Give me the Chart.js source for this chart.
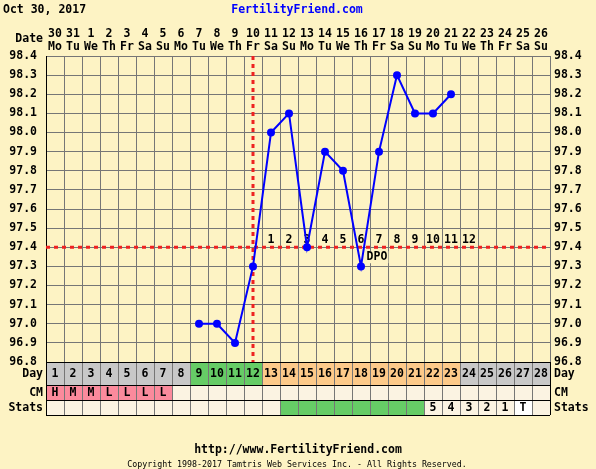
<!DOCTYPE html>
<html><head><meta charset="utf-8">
<script src="https://cdn.jsdelivr.net/npm/chart.js@4/dist/chart.umd.min.js"></script>
<style>
html,body{margin:0;padding:0;background:#fdf3c4;}
canvas{display:block;}
</style></head>
<body>
<canvas id="c" width="596" height="469"></canvas>
<script>
// ---- data ----
const chartDate = 'Oct 30, 2017';
const dateNums = ['30','31','1','2','3','4','5','6','7','8','9','10','11','12','13','14','15','16','17','18','19','20','21','22','23','24','25','26'];
const weekdays = ['Mo','Tu','We','Th','Fr','Sa','Su','Mo','Tu','We','Th','Fr','Sa','Su','Mo','Tu','We','Th','Fr','Sa','Su','Mo','Tu','We','Th','Fr','Sa','Su'];
const cycleDays = ['1','2','3','4','5','6','7','8','9','10','11','12','13','14','15','16','17','18','19','20','21','22','23','24','25','26','27','28'];
const temps = [null,null,null,null,null,null,null,null,97.0,97.0,96.9,97.3,98.0,98.1,97.4,97.9,97.8,97.3,97.9,98.3,98.1,98.1,98.2,null,null,null,null,null];
const yTicks = [96.8,96.9,97.0,97.1,97.2,97.3,97.4,97.5,97.6,97.7,97.8,97.9,98.0,98.1,98.2,98.3,98.4];
const dayPhase = ['n','n','n','n','n','n','n','n','f','f','f','f','l','l','l','l','l','l','l','l','l','l','l','n','n','n','n','n'];
const cmLabels = ['H','M','M','L','L','L','L','','','','','','','','','','','','','','','','','','','','',''];
const statsPhase = ['','','','','','','','','','','','','','g','g','g','g','g','g','g','g','','','','','','t',''];
const statsLabels = ['','','','','','','','','','','','','','','','','','','','','','5','4','3','2','1','T',''];
const dpoLabels = ['','','','','','','','','','','','','1','2','3','4','5','6','7','8','9','10','11','12','','','',''];
const coverline = 97.4;
const ovulationDay = '12';
const dpoTagDay = '19';

// ---- styles ----
const BG = '#fdf3c4';
const GRID = '#767676';
const FONT = '"DejaVu Sans Mono", "Liberation Mono", monospace';
const phaseColor = {n:'#c8c8c8', f:'#66cc66', l:'#fdca8a'};
const CREAM = '#fbf3e2';

const tablePlugin = {
  id: 'ffTable',
  beforeDraw(chart) {
    const ctx = chart.ctx;
    ctx.save();
    ctx.fillStyle = BG;
    ctx.fillRect(0, 0, chart.width, chart.height);
    ctx.restore();
  },
  beforeDatasetsDraw(chart) {
    const {ctx, chartArea: a, scales} = chart;
    const x = scales.x, y = scales.y;
    ctx.save();
    // coverline
    const cy = y.getPixelForValue(coverline);
    ctx.strokeStyle = '#ee2222';
    ctx.lineWidth = 3;
    ctx.setLineDash([4, 4]);
    ctx.beginPath(); ctx.moveTo(a.left, cy); ctx.lineTo(a.right, cy); ctx.stroke();
    // ovulation line
    const ox = x.getPixelForValue(cycleDays.indexOf(ovulationDay));
    ctx.beginPath(); ctx.moveTo(ox, a.top); ctx.lineTo(ox, a.bottom); ctx.stroke();
    ctx.setLineDash([]);
    // DPO labels
    ctx.font = 'bold 11.5px ' + FONT;
    ctx.textAlign = 'center'; ctx.textBaseline = 'middle';
    ctx.fillStyle = '#000';
    dpoLabels.forEach((t, i) => { if (t) ctx.fillText(t, x.getPixelForValue(i), cy - 7); });
    const dx = x.getPixelForValue(cycleDays.indexOf(dpoTagDay)) - 2;
    const tw = ctx.measureText('DPO').width;
    ctx.fillStyle = BG;
    ctx.fillRect(dx - tw/2 - 1, cy + 4, tw + 2, 12);
    ctx.fillStyle = '#000';
    ctx.fillText('DPO', dx, cy + 10);
    ctx.restore();
  },
  afterDraw(chart) {
    const {ctx, chartArea: a, scales} = chart;
    const x = scales.x;
    const w = (a.right - a.left) / cycleDays.length;
    const rows = [a.bottom, a.bottom + 23, a.bottom + 38, a.bottom + 53];
    ctx.save();
    ctx.font = 'bold 11.5px ' + FONT;
    ctx.textAlign = 'center'; ctx.textBaseline = 'middle';
    cycleDays.forEach((d, i) => {
      const cx = x.getPixelForValue(i);
      const x0 = cx - w/2;
      ctx.fillStyle = phaseColor[dayPhase[i]];
      ctx.fillRect(x0, rows[0], w, rows[1]-rows[0]);
      ctx.fillStyle = cmLabels[i] ? '#fb8a9c' : CREAM;
      ctx.fillRect(x0, rows[1], w, rows[2]-rows[1]);
      ctx.fillStyle = statsPhase[i] === 'g' ? '#66cc66' : (statsPhase[i] === 't' ? '#ffffff' : CREAM);
      ctx.fillRect(x0, rows[2], w, rows[3]-rows[2]);
      ctx.fillStyle = '#000';
      ctx.fillText(d, cx, (rows[0]+rows[1])/2 + 1);
      if (cmLabels[i]) ctx.fillText(cmLabels[i], cx, (rows[1]+rows[2])/2 + 1);
      if (statsLabels[i]) ctx.fillText(statsLabels[i], cx, (rows[2]+rows[3])/2 + 1);
    });
    ctx.strokeStyle = GRID; ctx.lineWidth = 1;
    for (let i = 1; i < cycleDays.length; i++) {
      const px = Math.round(a.left + i*w) + 0.5;
      ctx.beginPath(); ctx.moveTo(px, rows[0]); ctx.lineTo(px, rows[3]); ctx.stroke();
    }
    ctx.strokeStyle = '#000';
    rows.forEach(r => { const py = Math.round(r) + 0.5; ctx.beginPath(); ctx.moveTo(a.left, py); ctx.lineTo(a.right, py); ctx.stroke(); });
    [a.left, a.right].forEach(p => { const px = Math.round(p) + 0.5; ctx.beginPath(); ctx.moveTo(px, rows[0]); ctx.lineTo(px, rows[3]); ctx.stroke(); });
    ctx.fillStyle = '#000';
    const lab = [['Day', (rows[0]+rows[1])/2+1], ['CM', (rows[1]+rows[2])/2+1], ['Stats', (rows[2]+rows[3])/2+1]];
    lab.forEach(([t, py]) => {
      ctx.textAlign = 'right'; ctx.fillText(t, a.left - 3, py);
      ctx.textAlign = 'left'; ctx.fillText(t, a.right + 4, py);
    });
    ctx.textAlign = 'right';
    ctx.fillText('Date', a.left - 3, 39);
    ctx.textAlign = 'left';
    ctx.fillText(chartDate, 3, 10);
    ctx.textAlign = 'center';
    ctx.fillStyle = '#0000ff';
    ctx.fillText('FertilityFriend.com', 297, 10);
    ctx.fillStyle = '#000';
    ctx.fillText('http://www.FertilityFriend.com', 298, 450);
    ctx.font = '8.3px ' + FONT;
    ctx.fillText('Copyright 1998-2017 Tamtris Web Services Inc. - All Rights Reserved.', 297, 465);
    ctx.restore();
  }
};

Chart.defaults.font.family = FONT;
new Chart(document.getElementById('c'), {
  type: 'line',
  data: {
    labels: cycleDays,
    datasets: [{
      data: temps,
      borderColor: '#0000ff',
      backgroundColor: '#0000ff',
      borderWidth: 2,
      pointRadius: 4,
      pointHoverRadius: 4,
      pointBackgroundColor: '#0000ff',
      pointBorderWidth: 0,
      tension: 0,
      spanGaps: false
    }]
  },
  options: {
    responsive: false,
    devicePixelRatio: 1,
    animation: false,
    events: [],
    layout: {padding: 0},
    plugins: {legend: {display: false}, tooltip: {enabled: false}, title: {display: false}},
    scales: {
      x: {
        type: 'category', position: 'bottom', offset: true,
        grid: {offset: true, color: GRID, lineWidth: 1, drawTicks: false},
        border: {display: false},
        ticks: {display: false},
        afterFit(s) { s.height = 107; }
      },
      xTop: {
        type: 'category', position: 'top', offset: true,
        labels: dateNums.map((d, i) => [d, weekdays[i]]),
        grid: {display: false, drawTicks: false},
        border: {display: true, color: GRID},
        ticks: {autoSkip: false, maxRotation: 0, minRotation: 0, padding: 2, color: '#000',
                font: {size: 11.5, weight: 'bold', lineHeight: 1.13}},
        afterFit(s) { s.height = 56; }
      },
      y: {
        type: 'linear', position: 'left', min: 96.8, max: 98.4,
        afterBuildTicks(s) { s.ticks = yTicks.map(v => ({value: v})); },
        grid: {color: GRID, lineWidth: 1, drawTicks: false},
        border: {display: true, color: '#000'},
        ticks: {padding: 9, color: '#000', font: {size: 11.5, weight: 'bold'}, callback: v => v.toFixed(1)},
        afterFit(s) { s.width = 46; }
      },
      y2: {
        type: 'linear', position: 'right', min: 96.8, max: 98.4,
        afterBuildTicks(s) { s.ticks = yTicks.map(v => ({value: v})); },
        grid: {display: false, drawTicks: false},
        border: {display: true, color: GRID},
        ticks: {padding: 4, color: '#000', font: {size: 11.5, weight: 'bold'}, callback: v => v.toFixed(1)},
        afterFit(s) { s.width = 46; }
      }
    }
  },
  plugins: [tablePlugin]
});
</script>
</body></html>
